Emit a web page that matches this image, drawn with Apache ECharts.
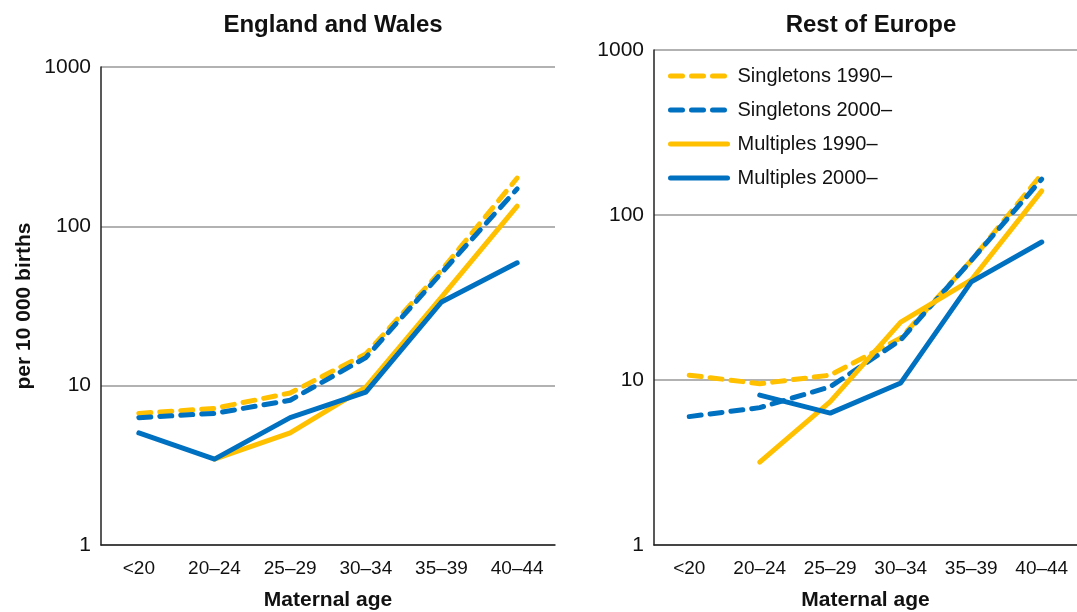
<!DOCTYPE html>
<html>
<head>
<meta charset="UTF-8">
<title>Maternal age chart</title>
<script src="https://cdn.jsdelivr.net/npm/echarts@6/dist/echarts.min.js"></script>
<style>
  html, body { margin: 0; padding: 0; background: #fff; }
</style>
</head>
<body>
<div id="chart" style="width: 1077px; height: 612px;"></div>
<script type="text/javascript">
// categories
var ages = ['<20', '20–24', '25–29', '30–34', '35–39', '40–44'];
var seriesNames = ['Singletons 1990–', 'Singletons 2000–', 'Multiples 1990–', 'Multiples 2000–'];

// England and Wales (per 10 000 births)
var ewSingle1990 = [6.7, 7.2, 9.0, 15.8, 53, 201];
var ewSingle2000 = [6.3, 6.7, 8.1, 15.0, 51, 172];
var ewMulti1990  = [null, 3.46, 5.05, 9.8, 36, 134];
var ewMulti2000  = [5.05, 3.46, 6.3, 9.1, 33.5, 59];

// Rest of Europe
var euSingle1990 = [10.7, 9.5, 10.7, 18, 53, 177];
var euSingle2000 = [6.0, 6.8, 9.1, 17.5, 53, 165];
var euMulti1990  = [null, 3.18, 7.4, 22.4, 40.4, 140];
var euMulti2000  = [null, 8.1, 6.3, 9.6, 39.3, 68.6];

var yellow = '#FFC000';
var blue = '#0070C0';
var font = 'Liberation Sans, Arial, sans-serif';

var myChart = echarts.init(document.getElementById('chart'));

function mkSeries(name, data, color, dashed, idx) {
    return {
        name: name,
        type: 'line',
        xAxisIndex: idx,
        yAxisIndex: idx,
        data: data,
        symbol: 'none',
        connectNulls: false,
        lineStyle: {
            color: color,
            width: 5,
            type: dashed ? [12, 9] : 'solid',
            cap: 'round',
            join: 'round'
        },
        itemStyle: { color: color }
    };
}

function xAx(idx) {
    return {
        type: 'category',
        gridIndex: idx,
        data: ages,
        boundaryGap: true,
        axisLine: { lineStyle: { color: '#222', width: 1.5 } },
        axisTick: { show: false },
        axisLabel: { color: '#111', fontSize: 19, fontFamily: font, margin: 14 },
        name: 'Maternal age',
        nameLocation: 'middle',
        nameGap: 45,
        nameTextStyle: { color: '#111', fontSize: 21, fontWeight: 'bold', fontFamily: font }
    };
}

function yAx(idx, withName) {
    var a = {
        type: 'log',
        logBase: 10,
        gridIndex: idx,
        min: 1,
        max: 1000,
        axisLine: { show: true, lineStyle: { color: '#222', width: 1.5 } },
        axisTick: { show: false },
        splitLine: { lineStyle: { color: '#999', width: 1.5 } },
        axisLabel: {
            color: '#111', fontSize: 21, fontFamily: font, margin: 10,
            formatter: function (v) { return String(Math.round(v)); }
        }
    };
    if (withName) {
        a.name = 'per 10 000 births';
        a.nameLocation = 'middle';
        a.nameRotate = 90;
        a.nameGap = 66;
        a.nameTextStyle = { color: '#111', fontSize: 21, fontWeight: 'bold', fontFamily: font };
    }
    return a;
}

var option = {
    animation: false,
    backgroundColor: '#fff',
    title: [
        { text: 'England and Wales', left: 328, top: 8, textAlign: 'center',
          textStyle: { fontSize: 24, fontWeight: 'bold', color: '#111', fontFamily: font } },
        { text: 'Rest of Europe', left: 866, top: 8, textAlign: 'center',
          textStyle: { fontSize: 24, fontWeight: 'bold', color: '#111', fontFamily: font } }
    ],
    legend: {
        data: seriesNames,
        orient: 'vertical',
        left: 663,
        top: 61,
        itemWidth: 57,
        itemHeight: 20,
        itemGap: 14,
        itemStyle: { opacity: 0 },
        lineStyle: { width: 5, cap: 'round' },
        textStyle: { fontSize: 20, color: '#111', fontFamily: font, padding: [0, 0, 0, 5] }
    },
    grid: [
        { left: 101, right: 522, top: 67, bottom: 67, outerBoundsMode: 'none' },
        { left: 654, right: 0, top: 50, bottom: 67, outerBoundsMode: 'none' }
    ],
    xAxis: [xAx(0), xAx(1)],
    yAxis: [yAx(0, true), yAx(1, false)],
    series: [
        mkSeries(seriesNames[0], ewSingle1990, yellow, true, 0),
        mkSeries(seriesNames[1], ewSingle2000, blue, true, 0),
        mkSeries(seriesNames[2], ewMulti1990, yellow, false, 0),
        mkSeries(seriesNames[3], ewMulti2000, blue, false, 0),
        mkSeries(seriesNames[0], euSingle1990, yellow, true, 1),
        mkSeries(seriesNames[1], euSingle2000, blue, true, 1),
        mkSeries(seriesNames[2], euMulti1990, yellow, false, 1),
        mkSeries(seriesNames[3], euMulti2000, blue, false, 1)
    ]
};

myChart.setOption(option);
</script>
</body>
</html>
